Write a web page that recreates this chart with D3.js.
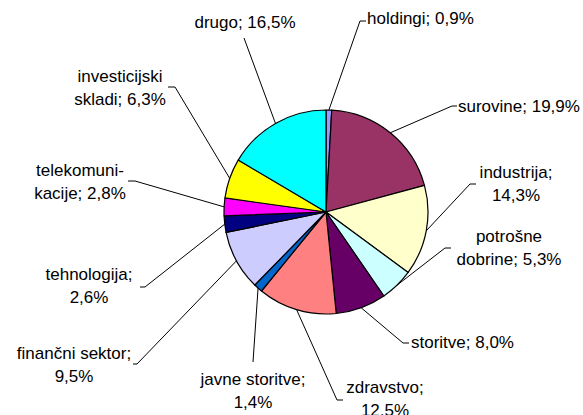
<!DOCTYPE html>
<html>
<head>
<meta charset="utf-8">
<script src="https://cdn.jsdelivr.net/npm/d3@7"></script>
<style>
  body { margin: 0; background: #fff; }
  text { font-family: "Liberation Sans", Arial, sans-serif; font-size: 17px; fill: #000; }
</style>
</head>
<body>
<script>
// sectors, clockwise from 12 o'clock
var categories = ["holdingi", "surovine", "industrija", "potrošne dobrine", "storitve", "zdravstvo",
                  "javne storitve", "finančni sektor", "tehnologija", "telekomunikacije", "investicijski skladi", "drugo"];
var values = [0.9, 19.9, 14.3, 5.3, 8.0, 12.5, 1.4, 9.5, 2.6, 2.8, 6.3, 16.5];
var colours = ["#9999ff", "#993366", "#ffffcc", "#ccffff", "#660066", "#ff8080",
               "#0066cc", "#ccccff", "#000080", "#ff00ff", "#ffff00", "#00ffff"];
var labelLines = [["holdingi; 0,9%"], ["surovine; 19,9%"], ["industrija;", "14,3%"], ["potrošne", "dobrine; 5,3%"],
                  ["storitve; 8,0%"], ["zdravstvo;", "12,5%"], ["javne storitve;", "1,4%"], ["finančni sektor;", "9,5%"],
                  ["tehnologija;", "2,6%"], ["telekomuni-", "kacije; 2,8%"], ["investicijski", "skladi; 6,3%"], ["drugo; 16,5%"]];

// label placement (text x, first baseline, anchor, leader elbow, leader stub end)
var labelLayout = [
  {x: 367, y: 24,  a: "start",  elbow: [360, 21],  stub: [366, 21]},
  {x: 458, y: 112, a: "start",  elbow: [452, 106], stub: [457, 106]},
  {x: 516, y: 178, a: "middle", elbow: [470, 184], stub: [476, 184]},
  {x: 509, y: 242, a: "middle", elbow: [445, 248], stub: [451, 248]},
  {x: 411, y: 348, a: "start",  elbow: [403, 343], stub: [409, 343]},
  {x: 385, y: 393, a: "middle", elbow: [337, 400], stub: [343, 400]},
  {x: 253, y: 385, a: "middle", elbow: [253, 362], stub: null},
  {x: 74,  y: 359, a: "middle", elbow: [137, 364], stub: [133, 364]},
  {x: 89,  y: 280, a: "middle", elbow: [145, 287], stub: [140, 287]},
  {x: 80,  y: 176, a: "middle", elbow: [135, 181], stub: [128, 181]},
  {x: 120, y: 82,  a: "middle", elbow: [175, 87],  stub: [168, 87]},
  {x: 245, y: 28,  a: "middle", elbow: [244, 38],  stub: null}
];

var width = 583, height = 415;
var cx = 326, cy = 212, radius = 102;

var svg = d3.select("body").append("svg")
            .attr("width", width)
            .attr("height", height);

var pie = d3.pie().sort(null).value(function(d) { return d; });
var arcs = pie(values);

var arc = d3.arc().innerRadius(0).outerRadius(radius);
var edge = d3.arc().innerRadius(radius).outerRadius(radius);

var g = svg.append("g").attr("transform", "translate(" + cx + "," + cy + ")");

g.selectAll("path")
  .data(arcs)
  .enter()
  .append("path")
  .attr("d", arc)
  .attr("fill", function(d, i) { return colours[i]; })
  .attr("stroke", "#000")
  .attr("stroke-width", 1.2)
  .attr("stroke-linejoin", "round");

// leader lines
svg.selectAll("polyline.leader")
  .data(arcs)
  .enter()
  .append("polyline")
  .attr("class", "leader")
  .attr("fill", "none")
  .attr("stroke", "#000")
  .attr("stroke-width", 1)
  .attr("points", function(d, i) {
    var p = edge.centroid(d);
    var L = labelLayout[i];
    var pts = [[p[0] + cx, p[1] + cy], L.elbow];
    if (L.stub) pts.push(L.stub);
    return pts.map(function(q) { return q.join(","); }).join(" ");
  });

// labels
var labels = svg.selectAll("text.lbl")
  .data(arcs)
  .enter()
  .append("text")
  .attr("class", "lbl")
  .attr("text-anchor", function(d, i) { return labelLayout[i].a; })
  .attr("x", function(d, i) { return labelLayout[i].x; })
  .attr("y", function(d, i) { return labelLayout[i].y; });

labels.each(function(d, i) {
  var t = d3.select(this);
  labelLines[i].forEach(function(line, j) {
    t.append("tspan")
     .attr("x", labelLayout[i].x)
     .attr("dy", j === 0 ? 0 : 23)
     .text(line);
  });
});
</script>
</body>
</html>
